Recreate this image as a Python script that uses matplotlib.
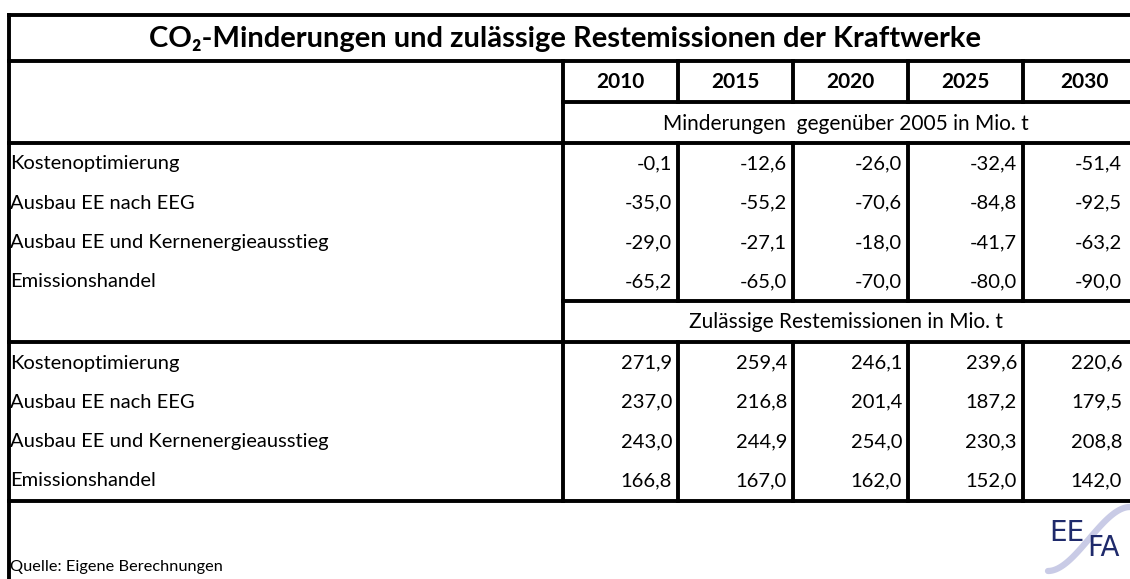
import matplotlib
matplotlib.use("Agg")
import matplotlib.pyplot as plt
import numpy as np

# table content
title = "CO₂-Minderungen und zulässige Restemissionen der Kraftwerke"
years = ["2010", "2015", "2020", "2025", "2030"]
scenarios = ["Kostenoptimierung", "Ausbau EE nach EEG",
             "Ausbau EE und Kernenergieausstieg", "Emissionshandel"]
sub_reduction = "Minderungen  gegenüber 2005 in Mio. t"
sub_residual = "Zulässige Restemissionen in Mio. t"
reduction = [
    [-0.1, -12.6, -26.0, -32.4, -51.4],
    [-35.0, -55.2, -70.6, -84.8, -92.5],
    [-29.0, -27.1, -18.0, -41.7, -63.2],
    [-65.2, -65.0, -70.0, -80.0, -90.0],
]
residual = [
    [271.9, 259.4, 246.1, 239.6, 220.6],
    [237.0, 216.8, 201.4, 187.2, 179.5],
    [243.0, 244.9, 254.0, 230.3, 208.8],
    [166.8, 167.0, 162.0, 152.0, 142.0],
]
source = "Quelle: Eigene Berechnungen"

W, H = 1130, 579
plt.rcParams['font.family'] = ['Lato', 'DejaVu Sans']

fig = plt.figure(figsize=(W / 100, H / 100), dpi=100)
ax = fig.add_axes([0, 0, 1, 1])
ax.set_xlim(0, W)
ax.set_ylim(H, 0)
ax.axis("off")

lw = 2.8
fs = 14.5
x_left = 9
x_lab = 563
col_w = 115
col_x = [x_lab + i * col_w for i in range(len(years) + 1)]
y_top, y_title, y_head, y_sub1 = 15, 61, 102, 143
row_h = 39.3
y_blk1_end = 301
y_sub2 = 342
y_bottom = 501


def hline(y, x0=x_left, x1=W):
    ax.plot([x0, x1], [y, y], color="black", lw=lw, solid_capstyle="projecting")


def vline(x, y0, y1):
    ax.plot([x, x], [y0, y1], color="black", lw=lw, solid_capstyle="projecting")


def fmt(v):
    return f"{v:.1f}".replace(".", ",")


# grid
hline(y_top)
hline(y_title)
hline(y_head, x_lab)
hline(y_sub1)
hline(y_blk1_end, x_lab)
hline(y_sub2)
hline(y_bottom)
vline(x_left, y_top, H)
vline(x_lab, y_title, y_bottom)
for x in col_x[1:-1]:
    vline(x, y_title, y_head)
    vline(x, y_sub1, y_blk1_end)
    vline(x, y_sub2, y_bottom)

# title and headers
ax.text(565, (y_top + y_title) / 2 + 1, title, ha="center", va="center",
        fontsize=21, fontweight="bold")
for i, yr in enumerate(years):
    xc = col_x[i] + col_w / 2
    if i == len(years) - 1:
        xc += 4  # last column is cut off at the image edge
    ax.text(xc, (y_title + y_head) / 2 + 1, yr,
            ha="center", va="center", fontsize=15, fontweight="bold")
ax.text(846, (y_head + y_sub1) / 2 + 1, sub_reduction,
        ha="center", va="center", fontsize=15)
ax.text(846, (y_blk1_end + y_sub2) / 2 + 1, sub_residual,
        ha="center", va="center", fontsize=15)

# data rows
for block, y0 in ((reduction, y_sub1), (residual, y_sub2)):
    for r, name in enumerate(scenarios):
        yc = y0 + 21 + r * row_h
        ax.text(x_left + 1, yc, name, ha="left", va="center", fontsize=fs)
        for c, v in enumerate(block[r]):
            xr = col_x[c + 1] - 6 if c < len(years) - 1 else W - 8
            ax.text(xr, yc, fmt(v), ha="right", va="center", fontsize=fs)

# footer
ax.text(x_left + 1, 567, source, ha="left", va="center", fontsize=11.8)

# EEFA logo
t = np.linspace(0, 1, 60)
sx = 1048 + 82 * t
sy = 571 - 64 * (3 * t ** 2 - 2 * t ** 3)
ax.plot(sx, sy, color="#c9cbe6", lw=4.5, solid_capstyle="round")
logo_font = ['Liberation Sans Narrow', 'DejaVu Sans']
ax.text(1067, 533, "EE", ha="center", va="center", fontsize=20,
        color="#1f2a6b", family=logo_font)
ax.text(1103, 548, "FA", ha="center", va="center", fontsize=20,
        color="#1f2a6b", family=logo_font)

fig.savefig("out.png", dpi=100)
